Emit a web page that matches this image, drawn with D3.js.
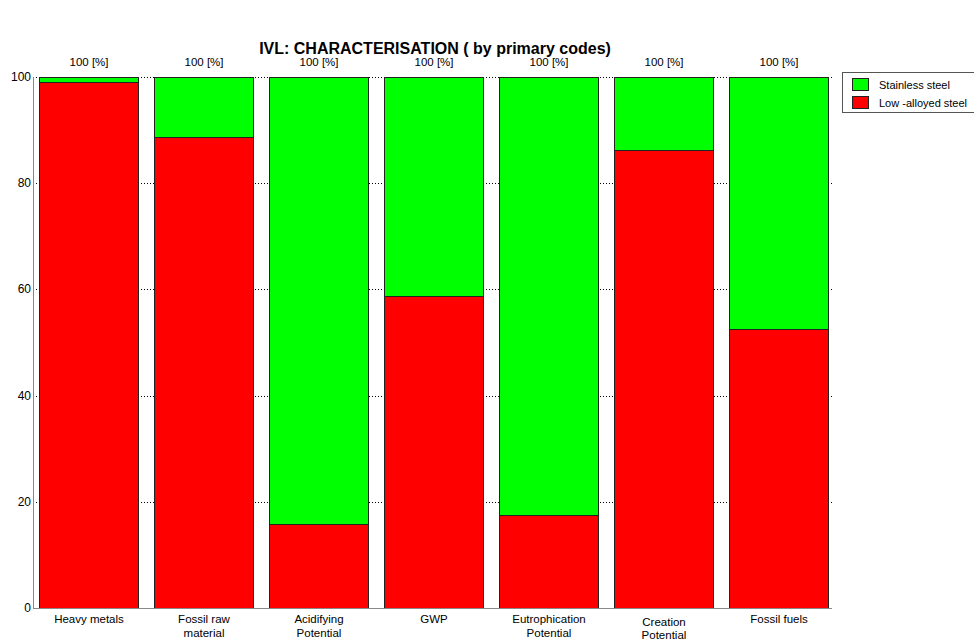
<!DOCTYPE html>
<html>
<head>
<meta charset="utf-8">
<script src="https://cdn.jsdelivr.net/npm/d3@7"></script>
<style>
  body { margin: 0; background: #fff; }
  svg { display: block; font-family: Arial, "Liberation Sans", sans-serif; }
</style>
</head>
<body>
<div id="chart"></div>
<script>
// categories (label lines) and series values, in percent
var categories = [
    ["Heavy metals"],
    ["Fossil raw", "material"],
    ["Acidifying", "Potential"],
    ["GWP"],
    ["Eutrophication", "Potential"],
    ["Creation", "Potential"],
    ["Fossil fuels"]
];
var lowAlloyed = [99.1, 88.7, 15.8, 58.8, 17.5, 86.3, 52.6];
var stainless = [0.9, 11.3, 84.2, 41.2, 82.5, 13.7, 47.4];
var totals = ["100 [%]", "100 [%]", "100 [%]", "100 [%]", "100 [%]", "100 [%]", "100 [%]"];
var yTicks = [0, 20, 40, 60, 80, 100];
var seriesNames = ["Stainless steel", "Low -alloyed steel"];
var seriesColors = ["#00ff00", "#ff0000"];

var width = 974, height = 642;
var plotLeft = 33, plotRight = 832, plotTop = 77, plotBottom = 608;

var svg = d3.select("#chart")
    .append("svg")
    .attr("width", width)
    .attr("height", height);

// title
svg.append("text")
    .attr("x", 435)
    .attr("y", 54)
    .attr("text-anchor", "middle")
    .attr("font-size", 16)
    .attr("font-weight", "bold")
    .text("IVL: CHARACTERISATION ( by primary codes)");

// 100px bars, 15px gaps
var x = d3.scaleBand()
    .domain(d3.range(categories.length))
    .range([plotLeft + 6, plotLeft + 796])
    .paddingInner(15 / 115)
    .paddingOuter(0);

var y = d3.scaleLinear()
    .domain([0, 100])
    .range([plotBottom, plotTop]);

// dotted grid lines
svg.append("g")
    .selectAll("line")
    .data(yTicks.filter(d => d > 0))
    .enter()
    .append("line")
    .attr("x1", plotLeft)
    .attr("x2", plotRight)
    .attr("y1", d => Math.round(y(d)) + 0.5)
    .attr("y2", d => Math.round(y(d)) + 0.5)
    .attr("stroke", "#000")
    .attr("stroke-dasharray", "1,2");

// y axis labels
svg.append("g")
    .selectAll("text")
    .data(yTicks)
    .enter()
    .append("text")
    .attr("x", plotLeft - 2)
    .attr("y", d => y(d) + 4)
    .attr("text-anchor", "end")
    .attr("font-size", 12)
    .text(d => d);

// bars: stacked red (bottom) then green
var stackData = lowAlloyed.map((v, i) => ({ i: i, low: v, stain: stainless[i] }));
var g = svg.append("g");

g.selectAll("rect.low")
    .data(stackData)
    .enter()
    .append("rect")
    .attr("class", "low")
    .attr("x", d => Math.round(x(d.i)) + 0.5)
    .attr("y", d => Math.round(y(d.low)) + 0.5)
    .attr("width", Math.round(x.bandwidth()) - 1)
    .attr("height", d => Math.round(y(0)) - Math.round(y(d.low)))
    .attr("fill", seriesColors[1])
    .attr("stroke", "#222")
    .attr("stroke-width", 1);

g.selectAll("rect.stain")
    .data(stackData)
    .enter()
    .append("rect")
    .attr("class", "stain")
    .attr("x", d => Math.round(x(d.i)) + 0.5)
    .attr("y", d => Math.round(y(d.low + d.stain)) + 0.5)
    .attr("width", Math.round(x.bandwidth()) - 1)
    .attr("height", d => Math.round(y(d.low)) - Math.round(y(d.low + d.stain)))
    .attr("fill", seriesColors[0])
    .attr("stroke", "#222")
    .attr("stroke-width", 1);

// axis lines
svg.append("line")
    .attr("x1", plotLeft + 0.5).attr("x2", plotLeft + 0.5)
    .attr("y1", plotTop).attr("y2", plotBottom)
    .attr("stroke", "#888");
svg.append("line")
    .attr("x1", plotLeft).attr("x2", plotRight)
    .attr("y1", plotBottom + 0.5).attr("y2", plotBottom + 0.5)
    .attr("stroke", "#888");

// totals above bars
svg.append("g")
    .selectAll("text")
    .data(totals)
    .enter()
    .append("text")
    .attr("x", (d, i) => x(i) + x.bandwidth() / 2)
    .attr("y", 66)
    .attr("text-anchor", "middle")
    .attr("font-size", 11.5)
    .text(d => d);

// category labels
var cat = svg.append("g")
    .selectAll("text")
    .data(categories)
    .enter()
    .append("text")
    .attr("x", (d, i) => x(i) + x.bandwidth() / 2)
    .attr("y", (d, i) => i == 5 ? 626 : 623) // "Creation" label sits a bit lower
    .attr("text-anchor", "middle")
    .attr("font-size", 11.5);

cat.selectAll("tspan")
    .data(d => d)
    .enter()
    .append("tspan")
    .attr("x", function() { return d3.select(this.parentNode).attr("x"); })
    .attr("dy", (d, i) => i == 0 ? 0 : 14)
    .text(d => d);

// keep the lowered label's second line inside the picture
cat.filter((d, i) => i == 5).selectAll("tspan").filter((d, i) => i == 1).attr("dy", 13);

// legend
var legend = svg.append("g");
legend.append("rect")
    .attr("x", 842.5)
    .attr("y", 72.5)
    .attr("width", 140)
    .attr("height", 40)
    .attr("fill", "#fff")
    .attr("stroke", "#555");

seriesNames.forEach(function(name, i) {
    legend.append("rect")
        .attr("x", 852.5)
        .attr("y", 78.5 + i * 18)
        .attr("width", 16)
        .attr("height", 12)
        .attr("fill", seriesColors[i])
        .attr("stroke", "#222");
    legend.append("text")
        .attr("x", 879)
        .attr("y", 88.5 + i * 18)
        .attr("font-size", 11)
        .text(name);
});
</script>
</body>
</html>
